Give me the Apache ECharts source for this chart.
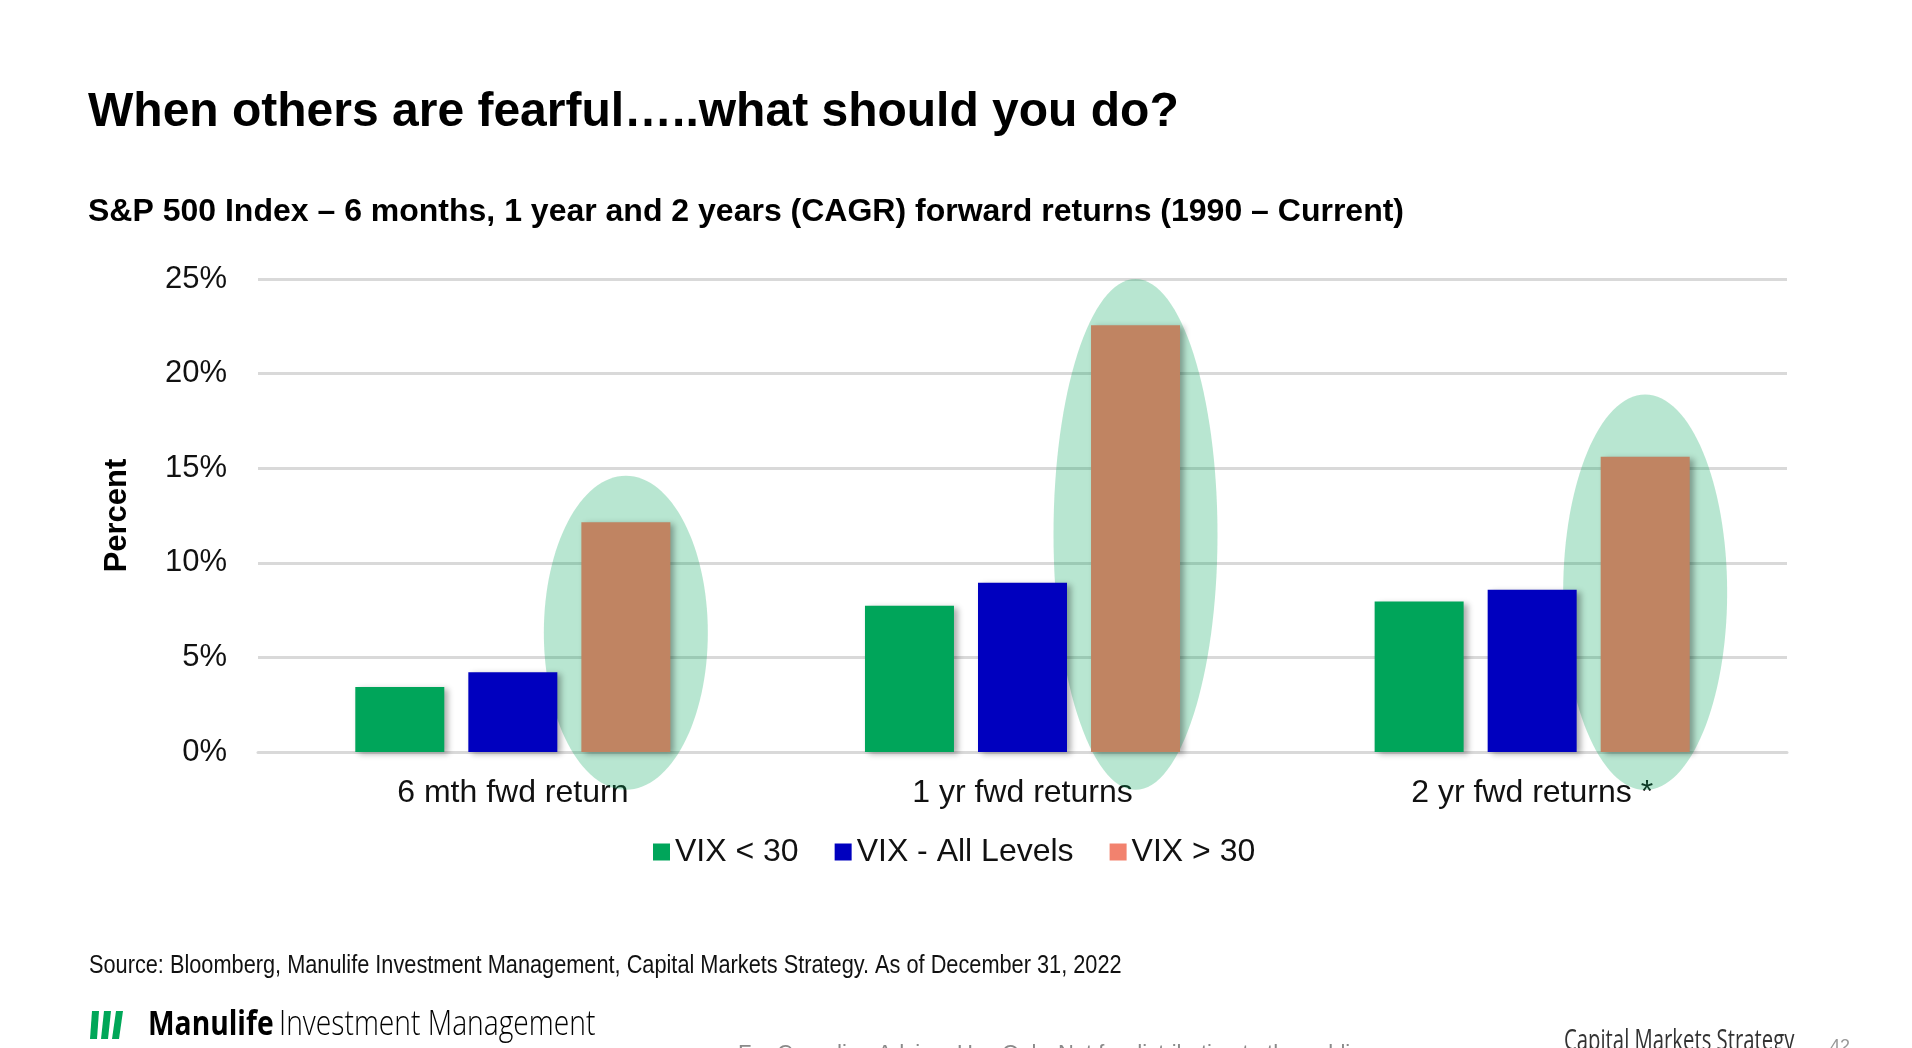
<!DOCTYPE html>
<html>
<head>
<meta charset="utf-8">
<script src="https://cdn.jsdelivr.net/npm/echarts@6/dist/echarts.min.js"></script>
<style>
html, body { margin: 0; padding: 0; background: #fff; }
#chart { width: 1912px; height: 1048px; }
</style>
</head>
<body>
<div id="chart"></div>
<script>
// S&P 500 forward returns by VIX level
var categories = ['6 mth fwd return', '1 yr fwd returns', '2 yr fwd returns *'];
var seriesNames = ['VIX < 30', 'VIX - All Levels', 'VIX > 30'];
var vixBelow30 = [3.43, 7.73, 7.95];
var vixAllLevels = [4.22, 8.95, 8.58];
var vixAbove30 = [12.14, 22.55, 15.6];
// highlight ovals round the VIX > 30 bars (percent units)
var ovalTop = [14.6, 25.0, 18.9];
var ovalBottom = [-2.0, -2.0, -2.0];
var yMin = 0, yMax = 25, yStep = 5;

var BAR_W = 89;
var BAR_GAP = 24;
var OVAL_RX = 82;
var FONT = '"Liberation Sans", Arial, sans-serif';

var barShadow = {
	shadowColor: 'rgba(0, 0, 0, 0.32)',
	shadowBlur: 6,
	shadowOffsetX: 4,
	shadowOffsetY: 2
};

function barSeries(name, data, color){
	return {
		name: name,
		type: 'bar',
		data: data,
		barWidth: BAR_W,
		barGap: (BAR_GAP / BAR_W * 100).toFixed(1) + '%',
		itemStyle: Object.assign({ color: color }, barShadow),
		emphasis: { disabled: true }
	};
}

var ovalData = [];
for(var i = 0; i < categories.length; i++){
	ovalData.push([i, ovalTop[i], ovalBottom[i]]);
}

var myChart = echarts.init(document.getElementById('chart'));

var option = {
	backgroundColor: '#ffffff',
	animation: false,
	grid: {
		left: 258,
		right: 125,
		top: 279,
		bottom: 296
	},
	legend: {
		data: [
			{ name: seriesNames[0], itemStyle: { color: '#00A55A' } },
			{ name: seriesNames[1], itemStyle: { color: '#0000BF' } },
			{ name: seriesNames[2], itemStyle: { color: '#F2826E' } }
		],
		left: 648,
		top: 831,
		icon: 'rect',
		itemWidth: 17,
		itemHeight: 17,
		itemGap: 36,
		itemStyle: { shadowBlur: 0, shadowOffsetX: 0, shadowOffsetY: 0 },
		textStyle: {
			fontFamily: FONT,
			fontSize: 32,
			color: '#111'
		},
		selectedMode: false
	},
	xAxis: {
		type: 'category',
		data: categories,
		axisLine: { show: true, lineStyle: { color: '#D9D9D9', width: 3 } },
		axisTick: { show: false },
		axisLabel: {
			fontFamily: FONT,
			fontSize: 32,
			color: '#111',
			margin: 25
		}
	},
	yAxis: {
		type: 'value',
		min: yMin,
		max: yMax,
		interval: yStep,
		name: 'Percent',
		nameLocation: 'middle',
		nameGap: 125,
		nameTextStyle: {
			fontFamily: FONT,
			fontSize: 31,
			fontWeight: 'bold',
			color: '#000'
		},
		axisLine: { show: false },
		axisTick: { show: false },
		axisLabel: {
			formatter: '{value}%',
			fontFamily: FONT,
			fontSize: 31,
			color: '#111',
			margin: 31
		},
		splitLine: { lineStyle: { color: '#D9D9D9', width: 3 } }
	},
	series: [
		barSeries(seriesNames[0], vixBelow30, '#00A55A'),
		barSeries(seriesNames[1], vixAllLevels, '#0000BF'),
		{
			// 绿色椭圆高亮
			type: 'custom',
			data: ovalData,
			encode: { x: 0, y: [1, 2] },
			silent: true,
			clip: false,
			renderItem: function(params, api){
				var top = api.coord([api.value(0), api.value(1)]);
				var bot = api.coord([api.value(0), api.value(2)]);
				return {
					type: 'ellipse',
					shape: {
						cx: top[0] + BAR_W + BAR_GAP,
						cy: (top[1] + bot[1]) / 2,
						rx: OVAL_RX,
						ry: (bot[1] - top[1]) / 2
					},
					style: { fill: 'rgba(0, 166, 90, 0.28)' }
				};
			}
		},
		barSeries(seriesNames[2], vixAbove30, '#C08462')
	],
	graphic: [
		{
			type: 'text', left: 88, top: 89,
			style: { text: 'When others are fearful\u2026..what should you do?', fill: '#000',
				font: 'bold 48px ' + FONT }
		},
		{
			type: 'text', left: 88, top: 196,
			style: { text: 'S&P 500 Index \u2013 6 months, 1 year and 2 years (CAGR) forward returns (1990 \u2013 Current)',
				fill: '#000', font: 'bold 32px ' + FONT }
		},
		{
			type: 'text', x: 89, y: 966, scaleX: 0.836,
			style: { text: 'Source: Bloomberg, Manulife Investment Management, Capital Markets Strategy. As of December 31, 2022',
				fill: '#111', font: '26px ' + FONT, textVerticalAlign: 'middle' }
		},
		// logo
		{ type: 'polygon', shape: { points: [[92, 1011], [99, 1011], [97, 1039], [90, 1039]] }, style: { fill: '#00A758' } },
		{ type: 'polygon', shape: { points: [[104, 1011], [111, 1011], [108, 1039], [101, 1039]] }, style: { fill: '#00A758' } },
		{ type: 'polygon', shape: { points: [[116, 1011], [123, 1011], [119, 1039], [112, 1039]] }, style: { fill: '#00A758' } },
		{
			type: 'text', x: 148, y: 1025, scaleX: 0.83,
			style: {
				text: '{a|Manulife}  {b|Investment Management}',
				textVerticalAlign: 'middle',
				rich: {
					a: { fontFamily: '"Open Sans", ' + FONT, fontSize: 34, fontWeight: 'bold', color: '#1c1c2a' },
					b: { fontFamily: '"Open Sans", ' + FONT, fontSize: 34, fontWeight: 300, color: '#2a2a3a' }
				}
			}
		},
		{
			type: 'text', x: 738, y: 1043,
			style: { text: 'For Canadian Advisor Use Only. Not for distribution to the public.',
				fill: '#8a8a8a', font: '22px ' + FONT }
		},
		{
			type: 'text', x: 1564, y: 1042, scaleX: 0.7,
			style: { text: 'Capital Markets Strategy', fill: '#333', font: '29px "Open Sans", ' + FONT,
				textVerticalAlign: 'middle' }
		},
		{
			type: 'text', x: 1830, y: 1047,
			style: { text: '42', fill: '#999', font: '18px ' + FONT, textVerticalAlign: 'middle' }
		}
	]
};

myChart.setOption(option);
</script>
</body>
</html>
